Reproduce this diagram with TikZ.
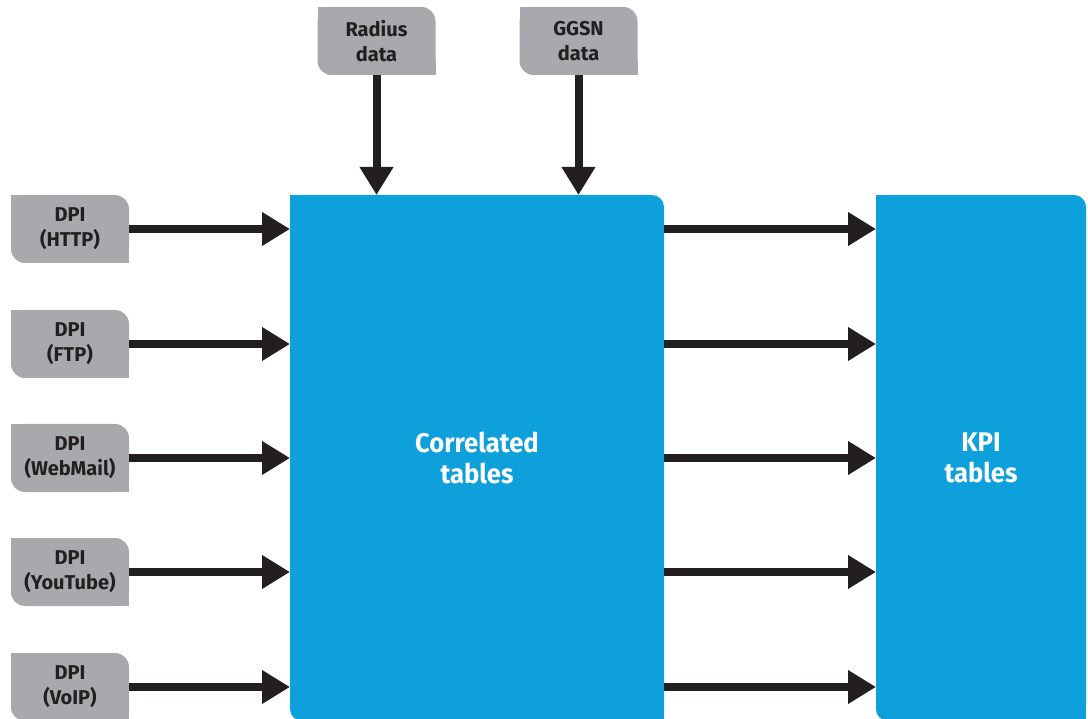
\documentclass[tikz,border=0pt]{standalone}
\usepackage{fontspec}
\newfontfamily\labelfont{Fira Sans}
\newfontfamily\tablefont{Fira Sans}[FakeStretch=0.95]
\usetikzlibrary{arrows.meta}
\definecolor{srcgray}{HTML}{A7A9AC}
\definecolor{tblblue}{HTML}{0DA0DB}
\definecolor{flowink}{HTML}{231F20}
\begin{document}
\begin{tikzpicture}[x=1pt,y=-1pt,
  src/.style={fill=srcgray, rounded corners=14pt, minimum width=118pt,
    minimum height=68pt, inner sep=0pt, outer sep=0pt, align=center,
    text=flowink, font=\labelfont\bfseries\fontsize{20}{25}\selectfont},
  tbl/.style={fill=tblblue, rounded corners=12pt, inner sep=0pt, outer sep=0pt,
    align=center, text=white, font=\tablefont\bfseries\fontsize{27}{31}\selectfont},
  flow/.style={draw=flowink, line width=8pt,
    -{Triangle[length=28pt,width=32pt]}},
]
\useasboundingbox (0,0) rectangle (1088,719);

% data sources feeding the correlation stage
\node[src] (radius) at (376.5,41) {Radius\\data};
\node[src] (ggsn)   at (578.5,41) {GGSN\\data};
\node[src] (http)   at (70,229)   {DPI\\(HTTP)};
\node[src] (ftp)    at (70,344)   {DPI\\(FTP)};
\node[src] (mail)   at (70,458)   {DPI\\(WebMail)};
\node[src] (yt)     at (70,572)   {DPI\\(YouTube)};
\node[src] (voip)   at (70,687)   {DPI\\(VoIP)};

% table stages
\node[tbl, minimum width=374pt, minimum height=526pt] (corr) at (477,458) {Correlated\\tables};
\node[tbl, minimum width=210pt, minimum height=526pt] (kpi)  at (981,458) {KPI\\tables};

% square off the top-left and bottom-right corners
\foreach \n in {radius,ggsn,http,ftp,mail,yt,voip}{
  \fill[srcgray] (\n.north west) rectangle ++(14,14);
  \fill[srcgray] (\n.south east) rectangle ++(-14,-14);
}
\foreach \n in {corr,kpi}{
  \fill[tblblue] (\n.north west) rectangle ++(12,12);
  \fill[tblblue] (\n.south east) rectangle ++(-12,-12);
}

% flows
\draw[flow] (radius.south) -- (radius.south |- corr.north);
\draw[flow] (ggsn.south)   -- (ggsn.south |- corr.north);
\foreach \n in {http,ftp,mail,yt,voip}{
  \draw[flow] (\n.east) -- (corr.west |- \n.east);
  \draw[flow] (corr.east |- \n.east) -- (kpi.west |- \n.east);
}
\end{tikzpicture}
\end{document}
